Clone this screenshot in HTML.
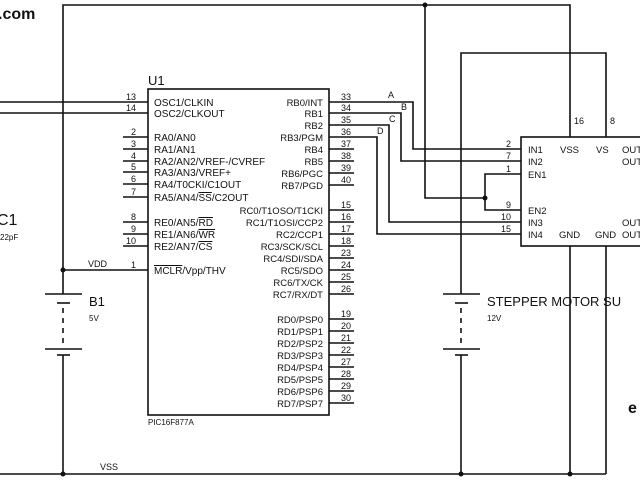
<!DOCTYPE html>
<html><head><style>
html,body{margin:0;padding:0;background:#fff}
svg{display:block}
text{font-family:"Liberation Sans",sans-serif;fill:#111}
</style></head><body>
<svg width="640" height="480" viewBox="0 0 640 480" xmlns="http://www.w3.org/2000/svg">
<g stroke="#111" stroke-width="1.6" fill="none">
<polyline points="63,294 63,5 570,5 570,137"/>
<polyline points="425,5 425,198 485,198"/>
<polyline points="461,294 461,53 606,53 606,137"/>
<line x1="0" y1="474" x2="606" y2="474"/>
<line x1="63" y1="355" x2="63" y2="474"/>
<line x1="461" y1="355" x2="461" y2="474"/>
<line x1="570" y1="246" x2="570" y2="474"/>
<line x1="606" y1="246" x2="606" y2="474"/>
<line x1="45" y1="294" x2="82" y2="294"/><line x1="57" y1="303" x2="70" y2="303"/>
<line x1="45" y1="349" x2="82" y2="349"/><line x1="57" y1="355" x2="70" y2="355"/>
<line x1="63" y1="308" x2="63" y2="346" stroke-dasharray="5,5"/>
<line x1="443" y1="294" x2="480" y2="294"/><line x1="455" y1="303" x2="468" y2="303"/>
<line x1="443" y1="349" x2="480" y2="349"/><line x1="455" y1="355" x2="468" y2="355"/>
<line x1="461" y1="308" x2="461" y2="346" stroke-dasharray="5,5"/>
<rect x="148" y="89" width="181" height="326"/>
<line x1="0" y1="102" x2="148" y2="102"/>
<line x1="0" y1="113" x2="148" y2="113"/>
<line x1="123" y1="137" x2="148" y2="137"/><line x1="123" y1="149" x2="148" y2="149"/>
<line x1="123" y1="161" x2="148" y2="161"/><line x1="123" y1="172" x2="148" y2="172"/>
<line x1="123" y1="184" x2="148" y2="184"/><line x1="123" y1="197" x2="148" y2="197"/>
<line x1="123" y1="222" x2="148" y2="222"/><line x1="123" y1="234" x2="148" y2="234"/>
<line x1="123" y1="246" x2="148" y2="246"/>
<line x1="63" y1="270" x2="148" y2="270"/>
<g>
<line x1="329" y1="149" x2="354" y2="149"/><line x1="329" y1="161" x2="354" y2="161"/>
<line x1="329" y1="173" x2="354" y2="173"/><line x1="329" y1="185" x2="354" y2="185"/>
<line x1="329" y1="210" x2="354" y2="210"/><line x1="329" y1="222" x2="354" y2="222"/>
<line x1="329" y1="234" x2="354" y2="234"/><line x1="329" y1="246" x2="354" y2="246"/>
<line x1="329" y1="258" x2="354" y2="258"/><line x1="329" y1="270" x2="354" y2="270"/>
<line x1="329" y1="282" x2="354" y2="282"/><line x1="329" y1="294" x2="354" y2="294"/>
<line x1="329" y1="319" x2="354" y2="319"/><line x1="329" y1="331" x2="354" y2="331"/>
<line x1="329" y1="343" x2="354" y2="343"/><line x1="329" y1="355" x2="354" y2="355"/>
<line x1="329" y1="367" x2="354" y2="367"/><line x1="329" y1="379" x2="354" y2="379"/>
<line x1="329" y1="391" x2="354" y2="391"/><line x1="329" y1="403" x2="354" y2="403"/>
</g>
<polyline points="329,102 413,102 413,149 521,149"/>
<polyline points="329,113 401,113 401,161 521,161"/>
<polyline points="329,125 389,125 389,222 521,222"/>
<polyline points="329,137 377,137 377,234 521,234"/>
<polyline points="521,174 485,174 485,210 521,210"/>
<rect x="521" y="137" width="130" height="109"/>
</g>
<g fill="#111">
<circle cx="425" cy="5" r="2.5"/><circle cx="485" cy="198" r="2.5"/>
<circle cx="63" cy="270" r="2.5"/><circle cx="63" cy="474" r="2.5"/>
<circle cx="461" cy="474" r="2.5"/><circle cx="570" cy="474" r="2.5"/>
</g>
<text x="-2" y="19" font-size="16" font-weight="bold">.com</text>
<text x="628" y="413" font-size="16" font-weight="bold">e</text>
<text x="-3" y="225" font-size="16">C1</text>
<text x="0" y="240" font-size="8">22pF</text>
<text x="148" y="85" font-size="13">U1</text>
<text x="148" y="425" font-size="8">PIC16F877A</text>
<text x="89" y="306" font-size="13">B1</text>
<text x="89" y="321" font-size="8">5V</text>
<text x="487" y="306" font-size="13">STEPPER MOTOR SU</text>
<text x="487" y="321" font-size="8">12V</text>
<text x="100" y="470" font-size="9">VSS</text>
<text x="88" y="267" font-size="9">VDD</text>
<g font-size="9" text-anchor="end">
<text x="136" y="100">13</text><text x="136" y="111">14</text>
<text x="136" y="135">2</text><text x="136" y="147">3</text><text x="136" y="159">4</text>
<text x="136" y="170">5</text><text x="136" y="182">6</text><text x="136" y="195">7</text>
<text x="136" y="220">8</text><text x="136" y="232">9</text><text x="136" y="244">10</text>
<text x="136" y="268">1</text>
</g>
<g font-size="9" text-anchor="middle">
<text x="346" y="100">33</text><text x="346" y="111">34</text><text x="346" y="123">35</text>
<text x="346" y="135">36</text><text x="346" y="147">37</text><text x="346" y="159">38</text>
<text x="346" y="171">39</text><text x="346" y="183">40</text><text x="346" y="208">15</text>
<text x="346" y="220">16</text><text x="346" y="232">17</text><text x="346" y="244">18</text>
<text x="346" y="256">23</text><text x="346" y="268">24</text><text x="346" y="280">25</text>
<text x="346" y="292">26</text><text x="346" y="317">19</text><text x="346" y="329">20</text>
<text x="346" y="341">21</text><text x="346" y="353">22</text><text x="346" y="365">27</text>
<text x="346" y="377">28</text><text x="346" y="389">29</text><text x="346" y="401">30</text>
</g>
<g font-size="10">
<text x="154" y="106">OSC1/CLKIN</text><text x="154" y="117">OSC2/CLKOUT</text>
<text x="154" y="141">RA0/AN0</text><text x="154" y="153">RA1/AN1</text>
<text x="154" y="165">RA2/AN2/VREF-/CVREF</text><text x="154" y="176">RA3/AN3/VREF+</text>
<text x="154" y="188">RA4/T0CKI/C1OUT</text><text x="154" y="201">RA5/AN4/<tspan text-decoration="overline">SS</tspan>/C2OUT</text>
<text x="154" y="226">RE0/AN5/<tspan text-decoration="overline">RD</tspan></text>
<text x="154" y="238">RE1/AN6/<tspan text-decoration="overline">WR</tspan></text>
<text x="154" y="250">RE2/AN7/<tspan text-decoration="overline">CS</tspan></text>
<text x="154" y="274"><tspan text-decoration="overline">MCLR</tspan>/Vpp/THV</text>
</g>
<g font-size="9.5" text-anchor="end">
<text x="323" y="106">RB0/INT</text><text x="323" y="117">RB1</text><text x="323" y="129">RB2</text>
<text x="323" y="141">RB3/PGM</text><text x="323" y="153">RB4</text><text x="323" y="165">RB5</text>
<text x="323" y="177">RB6/PGC</text><text x="323" y="189">RB7/PGD</text>
<text x="323" y="214">RC0/T1OSO/T1CKI</text><text x="323" y="226">RC1/T1OSI/CCP2</text>
<text x="323" y="238">RC2/CCP1</text><text x="323" y="250">RC3/SCK/SCL</text>
<text x="323" y="262">RC4/SDI/SDA</text><text x="323" y="274">RC5/SDO</text>
<text x="323" y="286">RC6/TX/CK</text><text x="323" y="298">RC7/RX/DT</text>
<text x="323" y="323">RD0/PSP0</text><text x="323" y="335">RD1/PSP1</text>
<text x="323" y="347">RD2/PSP2</text><text x="323" y="359">RD3/PSP3</text>
<text x="323" y="371">RD4/PSP4</text><text x="323" y="383">RD5/PSP5</text>
<text x="323" y="395">RD6/PSP6</text><text x="323" y="407">RD7/PSP7</text>
</g>
<g font-size="9">
<text x="388" y="98">A</text><text x="401" y="110">B</text>
<text x="389" y="122">C</text><text x="377" y="134">D</text>
</g>
<g font-size="9" text-anchor="end">
<text x="511" y="147">2</text><text x="511" y="159">7</text><text x="511" y="172">1</text>
<text x="511" y="208">9</text><text x="511" y="220">10</text><text x="511" y="232">15</text>
</g>
<text x="574" y="124" font-size="9">16</text>
<text x="610" y="124" font-size="9">8</text>
<g font-size="9.5">
<text x="528" y="153">IN1</text><text x="528" y="165">IN2</text><text x="528" y="178">EN1</text>
<text x="528" y="214">EN2</text><text x="528" y="226">IN3</text><text x="528" y="238">IN4</text>
<text x="560" y="153">VSS</text><text x="596" y="153">VS</text>
<text x="622" y="153">OUT</text><text x="622" y="165">OUT</text>
<text x="622" y="226">OUT</text><text x="622" y="238">OUT</text>
<text x="559" y="238">GND</text><text x="595" y="238">GND</text>
</g>
</svg>
</body></html>
